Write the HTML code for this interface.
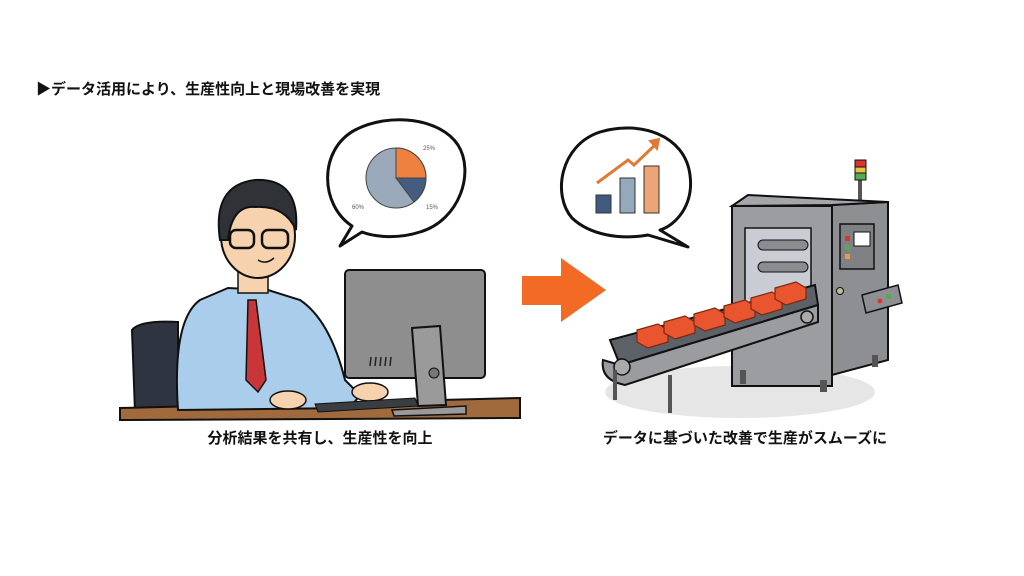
<!DOCTYPE html>
<html><head><meta charset="utf-8"><style>
html,body{margin:0;padding:0;background:#fff;}
svg{display:block}
text{font-family:"Liberation Sans","Noto Sans CJK JP",sans-serif;}
</style></head><body>
<svg width="1024" height="576" viewBox="0 0 1024 576" xmlns="http://www.w3.org/2000/svg">
<rect width="1024" height="576" fill="#fff"/>
<text x="36" y="94" font-size="15" font-weight="bold" fill="#111">▶データ活用により、生産性向上と現場改善を実現</text>

<path d="M352,226 C320,205 318,150 355,130 C390,112 440,118 458,145 C475,172 460,220 420,232 C395,240 372,236 362,232 L340,246 Z" fill="#fff" stroke="#111" stroke-width="3" stroke-linejoin="round"/>
<circle cx="396" cy="178" r="30" fill="#9aaabb" stroke="#444" stroke-width="1"/>
<path d="M396,178 L396,148 A30,30 0 0 1 426,178 Z" fill="#ee8040" stroke="#444" stroke-width="1"/>
<path d="M396,178 L426,178 A30,30 0 0 1 414,202 Z" fill="#445c80" stroke="#444" stroke-width="1"/>
<text x="423" y="150" font-size="6" fill="#555">25%</text>
<text x="426" y="209" font-size="6" fill="#555">15%</text>
<text x="352" y="209" font-size="6" fill="#555">60%</text>

<path d="M132,330 Q140,320 178,322 L178,412 L135,412 Z" fill="#2e3540" stroke="#111" stroke-width="2"/>
<path d="M120,408 L520,398 L520,418 L120,420 Z" fill="#a06a3c" stroke="#111" stroke-width="2"/>
<path d="M178,410 Q172,320 200,300 L228,288 L268,290 L300,300 Q330,320 345,380 L360,395 L350,408 Z" fill="#a9cdea" stroke="#111" stroke-width="2"/>
<path d="M248,300 L256,300 L266,380 L258,392 L246,380 Z" fill="#c9363a" stroke="#111" stroke-width="1.5"/>
<rect x="238" y="268" width="30" height="25" fill="#f6d2ae" stroke="#111" stroke-width="1.5"/>
<ellipse cx="258" cy="236" rx="37" ry="42" fill="#f6d2ae" stroke="#111" stroke-width="2"/>
<path d="M220,240 Q212,185 255,180 Q300,178 296,230 Q285,205 255,207 Q232,205 228,240 Z" fill="#2f3338" stroke="#111" stroke-width="2"/>
<rect x="230" y="230" width="24" height="18" rx="6" fill="none" stroke="#111" stroke-width="2.5"/>
<rect x="262" y="230" width="26" height="18" rx="6" fill="none" stroke="#111" stroke-width="2.5"/>
<path d="M258,260 Q266,265 274,258" fill="none" stroke="#111" stroke-width="1.5"/>
<ellipse cx="288" cy="400" rx="18" ry="9" fill="#f6d2ae" stroke="#111" stroke-width="1.5"/>
<ellipse cx="370" cy="392" rx="18" ry="9" fill="#f6d2ae" stroke="#111" stroke-width="1.5"/>
<path d="M315,404 L415,398 L418,406 L318,412 Z" fill="#3a3d42" stroke="#111" stroke-width="1"/>
<rect x="345" y="270" width="140" height="108" rx="4" fill="#8e8e8e" stroke="#111" stroke-width="2"/>
<path d="M412,328 L440,326 L446,405 L418,406 Z" fill="#9a9a9a" stroke="#111" stroke-width="2"/>
<path d="M392,410 L466,406 L466,414 L394,416 Z" fill="#9a9a9a" stroke="#111" stroke-width="1.5"/>
<circle cx="434" cy="373" r="5" fill="#777" stroke="#111"/>
<g stroke="#222" stroke-width="1.5"><line x1="371" y1="357" x2="370" y2="366"/><line x1="376" y1="357" x2="375" y2="366"/><line x1="381" y1="357" x2="380" y2="366"/><line x1="386" y1="357" x2="385" y2="366"/><line x1="391" y1="357" x2="390" y2="366"/></g>

<text x="320" y="443" font-size="15" font-weight="bold" fill="#111" text-anchor="middle">分析結果を共有し、生産性を向上</text>

<path d="M522,276 L561,276 L561,258 L606,290 L561,322 L561,305 L522,305 Z" fill="#f26a24"/>

<path d="M572,218 C552,195 560,145 600,132 C640,120 685,135 690,175 C694,205 676,225 660,230 L688,247 L648,235 C620,240 590,235 572,218 Z" fill="#fff" stroke="#111" stroke-width="3" stroke-linejoin="round"/>
<rect x="596" y="195" width="15" height="18" fill="#405a80" stroke="#333"/>
<rect x="620" y="178" width="15" height="35" fill="#95a9bd" stroke="#333"/>
<rect x="644" y="166" width="15" height="47" fill="#eba577" stroke="#333"/>
<polyline points="597,183 628,160 634,165 656,144" fill="none" stroke="#e07a34" stroke-width="3"/>
<path d="M650,141 L659,139 L657,149 Z" fill="#e07a34" stroke="#e07a34" stroke-width="2"/>

<ellipse cx="740" cy="392" rx="135" ry="26" fill="#e6e6e6"/>
<rect x="858" y="180" width="4" height="25" fill="#555"/>
<rect x="855" y="160" width="11" height="7" fill="#d33" stroke="#111"/>
<rect x="855" y="167" width="11" height="6" fill="#ecc040" stroke="#111"/>
<rect x="855" y="173" width="11" height="7" fill="#5a5" stroke="#111"/>
<path d="M832,205 L888,202 L888,360 L832,375 Z" fill="#8d8f93" stroke="#111" stroke-width="2"/>
<path d="M732,206 L748,195 L888,202 L832,205 Z" fill="#a4a6aa" stroke="#111" stroke-width="2"/>
<rect x="732" y="206" width="100" height="180" fill="#9b9da1" stroke="#111" stroke-width="2"/>
<rect x="745" y="228" width="66" height="80" fill="#c9ccd2" stroke="#111" stroke-width="1.5"/>
<rect x="758" y="240" width="50" height="10" rx="5" fill="#8a8c90" stroke="#111"/>
<rect x="758" y="262" width="50" height="10" rx="5" fill="#8a8c90" stroke="#111"/>
<rect x="840" y="224" width="34" height="45" fill="#7f8185" stroke="#111" stroke-width="1.5"/>
<rect x="854" y="232" width="16" height="14" fill="#fff" stroke="#111"/>
<rect x="845" y="236" width="5" height="5" fill="#d33"/><rect x="845" y="245" width="5" height="5" fill="#5a5"/><rect x="845" y="254" width="5" height="5" fill="#e9a030"/>
<path d="M862,295 L898,285 L902,303 L866,313 Z" fill="#8d8f93" stroke="#111" stroke-width="1.5"/>
<circle cx="880" cy="301" r="2.5" fill="#d33"/><rect x="886" y="294" width="5" height="5" fill="#5a5"/>
<circle cx="840" cy="291" r="3.5" fill="#bb9" stroke="#111"/>
<g fill="#555"><rect x="740" y="370" width="6" height="14"/><rect x="820" y="380" width="7" height="12"/><rect x="872" y="355" width="6" height="12"/></g>
<path d="M610,340 L815,285 L818,305 L620,365 Z" fill="#5d6168" stroke="#111" stroke-width="2"/>
<path d="M620,365 L818,305 L818,322 L625,385 Q600,380 603,360 Z" fill="#9a9ca0" stroke="#111" stroke-width="2"/>
<circle cx="622" cy="367" r="8" fill="#aaa" stroke="#111" stroke-width="1.5"/>
<circle cx="807" cy="317" r="6" fill="#aaa" stroke="#111" stroke-width="1.5"/>
<rect x="613" y="370" width="4" height="30" fill="#555"/>
<rect x="668" y="375" width="4" height="38" fill="#555"/>
<g fill="#e8552e" stroke="#7a2a14" stroke-width="1.2">
<path d="M637,330 L658,324 L668,330 L668,342 L648,348 L637,342 Z"/>
<path d="M664,322 L685,316 L695,322 L695,333 L675,339 L664,333 Z"/>
<path d="M694,314 L715,308 L725,314 L725,325 L705,331 L694,325 Z"/>
<path d="M724,306 L745,300 L755,306 L755,317 L735,323 L724,317 Z"/>
<path d="M751,298 L772,292 L782,298 L782,309 L762,315 L751,309 Z"/>
<path d="M775,288 L796,282 L806,288 L806,299 L786,305 L775,299 Z"/>
</g>

<text x="745" y="443" font-size="15" font-weight="bold" fill="#111" text-anchor="middle">データに基づいた改善で生産がスムーズに</text>
</svg>
</body></html>
